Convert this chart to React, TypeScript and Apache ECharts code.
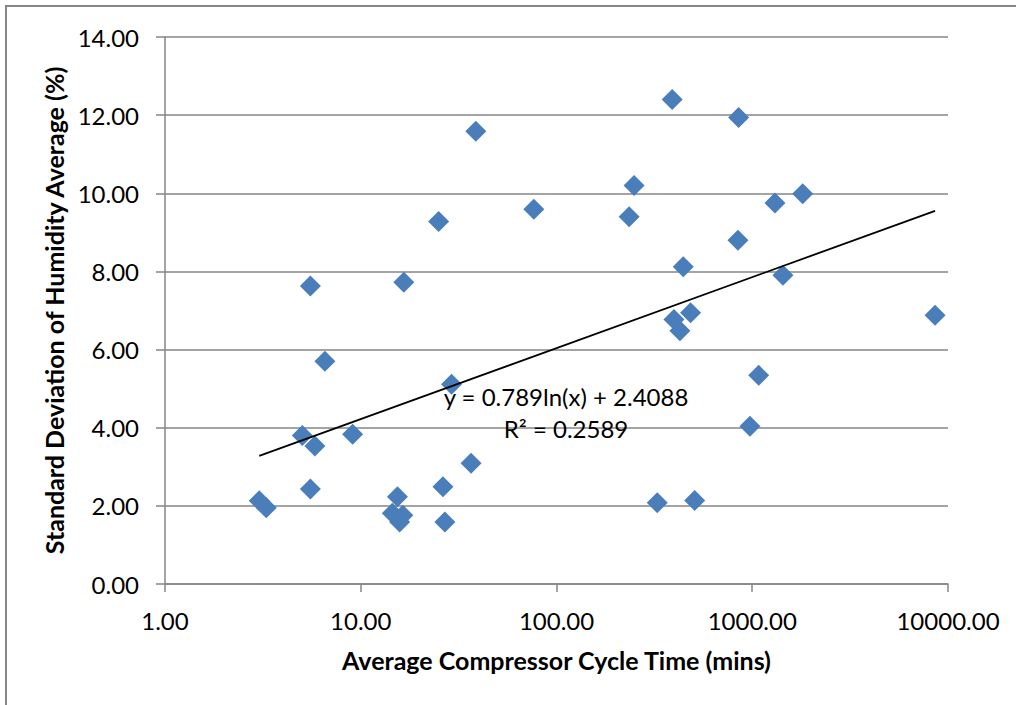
import React, { useEffect, useRef } from 'react';
import * as echarts from 'echarts';

// Average compressor cycle time (mins) — x values (log scale)
const cycleTimes = [
  3.03, 3.29, 5.03, 5.53, 5.53, 5.83, 6.56, 9.09, 14.5, 15.4, 15.8, 16.4, 16.6,
  25.0, 26.3, 26.9, 29.1, 36.6, 38.7, 76.6, 235, 249, 327, 390, 398, 427, 444,
  484, 508, 845, 852, 973, 1079, 1306, 1435, 1810, 8590,
];
// Standard deviation of humidity average (%) — y values
const humidityStd = [
  2.13, 1.95, 3.8, 2.43, 7.63, 3.53, 5.7, 3.83, 1.81, 2.23, 1.59, 1.76, 7.72,
  9.28, 2.49, 1.59, 5.11, 3.09, 11.59, 9.59, 9.4, 10.2, 2.08, 12.4, 6.77, 6.48, 8.12,
  6.94, 2.14, 8.8, 11.94, 4.04, 5.34, 9.75, 7.9, 9.99, 6.88,
];
// Logarithmic trendline end points
const trendX = [3.03, 8590];
const trendY = [3.28, 9.55];

const equationText = 'y = 0.789ln(x) + 2.4088';
const r2Text = 'R² = 0.2589';
const xTitle = 'Average Compressor Cycle Time (mins)';
const yTitle = 'Standard Deviation of Humidity Average (%)';

const FONT = 'Lato, "Open Sans", sans-serif';
const GRID_COLOR = '#868686';

export default function App() {
  const ref = useRef<HTMLDivElement>(null);
  useEffect(() => {
    const chart = echarts.init(ref.current!, null, { renderer: 'svg' });
    chart.setOption({
      animation: false,
      backgroundColor: '#ffffff',
      grid: { left: 165, top: 37, width: 783, height: 547 },
      xAxis: {
        type: 'log',
        logBase: 10,
        min: 1,
        max: 10000,
        name: xTitle,
        nameLocation: 'middle',
        nameGap: 63,
        nameTextStyle: { fontFamily: FONT, fontSize: 25, fontWeight: 'bold', color: '#000' },
        axisLine: { show: true, lineStyle: { color: GRID_COLOR, width: 1.5 } },
        axisTick: { show: true, length: 8, lineStyle: { color: GRID_COLOR, width: 1.5 } },
        minorTick: { show: false },
        splitLine: { show: false },
        axisLabel: {
          formatter: (v: number) => v.toFixed(2),
          fontFamily: FONT,
          fontSize: 24,
          color: '#000',
          margin: 24,
        },
      },
      yAxis: {
        type: 'value',
        min: 0,
        max: 14,
        interval: 2,
        name: yTitle,
        nameLocation: 'middle',
        nameGap: 93,
        nameRotate: 90,
        nameTextStyle: { fontFamily: FONT, fontSize: 25, fontWeight: 'bold', color: '#000' },
        axisLine: { show: true, lineStyle: { color: GRID_COLOR, width: 1.5 } },
        axisTick: { show: true, length: 9, lineStyle: { color: GRID_COLOR, width: 1.5 } },
        splitLine: { show: true, lineStyle: { color: GRID_COLOR, width: 1.5 } },
        axisLabel: {
          formatter: (v: number) => v.toFixed(2),
          fontFamily: FONT,
          fontSize: 24,
          color: '#000',
          margin: 26,
        },
      },
      series: [
        {
          type: 'scatter',
          symbol: 'diamond',
          symbolSize: 21,
          itemStyle: { color: '#4A7EBB', opacity: 1 },
          data: cycleTimes.map((x, i) => [x, humidityStd[i]]),
          z: 2,
        },
        {
          type: 'line',
          symbol: 'none',
          lineStyle: { color: '#000', width: 1.8 },
          data: trendX.map((x, i) => [x, trendY[i]]),
          z: 3,
        },
      ],
      graphic: [
        {
          type: 'rect',
          silent: true,
          shape: { x: 6, y: 6, width: 1030, height: 720 },
          style: { fill: 'none', stroke: GRID_COLOR, lineWidth: 2 },
        },
        {
          type: 'text',
          x: 566,
          y: 396,
          z: 10,
          style: {
            text: equationText,
            fontFamily: FONT,
            fontSize: 24,
            fill: '#000',
            align: 'center',
            verticalAlign: 'middle',
          },
        },
        {
          type: 'text',
          x: 566,
          y: 428,
          z: 10,
          style: {
            text: r2Text,
            fontFamily: FONT,
            fontSize: 24,
            fill: '#000',
            align: 'center',
            verticalAlign: 'middle',
          },
        },
      ],
    });
    return () => chart.dispose();
  }, []);
  return (
    <div
      ref={ref}
      style={{ position: 'fixed', left: 0, top: 0, width: 1016, height: 705, background: '#fff' }}
    />
  );
}
